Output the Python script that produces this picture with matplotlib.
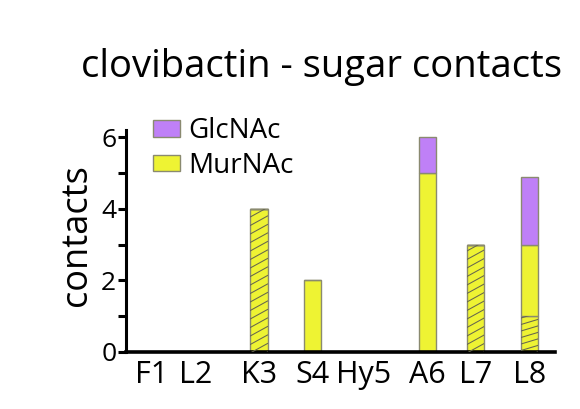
import matplotlib
matplotlib.use('Agg')
import matplotlib.pyplot as plt
from matplotlib.patches import Patch
from matplotlib.lines import Line2D
from matplotlib.transforms import IdentityTransform
import numpy as np

plt.rcParams['font.family'] = ['Open Sans', 'DejaVu Sans']

# data
residues = ['F1', 'L2', 'K3', 'S4', 'Hy5', 'A6', 'L7', 'L8']
murnac_hatch = [0, 0, 4, 0, 0, 0, 3, 0]      # hatched MurNAc (steep lines)
murnac_hatch2 = [0, 0, 0, 0, 0, 0, 0, 1]     # hatched MurNAc (flat lines)
murnac_plain = [0, 0, 0, 2, 0, 5, 0, 2]
glcnac = [0, 0, 0, 0, 0, 1, 0, 1.9]

# layout
xpos = np.array([0, 0.82, 2, 3.0, 3.95, 5.15, 6.05, 7.05])
width = 0.32
yellow = '#eef333'
purple = '#bf80f7'
edge = '#8a8a70'

fig = plt.figure(figsize=(5.8, 4.09), dpi=100)
ax = fig.add_axes([0.2172, 0.1394, 0.7397, 0.5428])
ax.set_xlim(-0.486, 7.533)
ax.set_ylim(0, 6.2)

h1 = np.array(murnac_hatch)
h2 = np.array(murnac_hatch2)
mp = np.array(murnac_plain)
gl = np.array(glcnac)

b1 = ax.bar(xpos, h1, width, color=yellow, edgecolor=edge, lw=1, zorder=2)
b2 = ax.bar(xpos, h2, width, bottom=h1, color=yellow, edgecolor=edge, lw=1, zorder=2)
b3 = ax.bar(xpos, mp, width, bottom=h1 + h2, color=yellow, edgecolor=edge, lw=1, zorder=2)
b4 = ax.bar(xpos, gl, width, bottom=h1 + h2 + mp, color=purple, edgecolor=edge, lw=1, zorder=2)


def hatch(rect, slope, step):
    # diagonal lines drawn in pixels, clipped to the bar
    bb = rect.get_window_extent()
    if bb.height <= 0:
        return
    w = bb.x1 - bb.x0
    y = bb.y0 - slope * w
    while y < bb.y1:
        ln = Line2D([bb.x0, bb.x1], [y, y + slope * w], transform=IdentityTransform(),
                    color='#66664f', lw=0.75, zorder=3)
        ln.set_clip_path(rect)
        fig.add_artist(ln)
        y += step


for r in b1:
    hatch(r, 0.55, 8.5)
for r in b2:
    hatch(r, 0.3, 6.5)

for s in ['top', 'right']:
    ax.spines[s].set_visible(False)
ax.spines['left'].set_linewidth(2.2)
ax.spines['bottom'].set_linewidth(2.6)
ax.spines['bottom'].set_zorder(4)

ax.set_yticks([0, 2, 4, 6])
ax.set_yticks([1, 3, 5], minor=True)
ax.tick_params(axis='y', which='both', length=6, width=2.2, labelsize=19, pad=1)
ax.set_xticks(xpos)
ax.set_xticklabels(residues)
ax.tick_params(axis='x', length=0, labelsize=22, pad=6)

fig.text(0.555, 0.812, 'clovibactin - sugar contacts', ha='center', va='baseline', fontsize=27.5)
fig.text(0.133, 0.425, 'contacts', rotation=90, ha='center', va='center', fontsize=26)

handles = [Patch(facecolor=purple, edgecolor=edge, label='GlcNAc'),
           Patch(facecolor=yellow, edgecolor=edge, label='MurNAc')]
ax.legend(handles=handles, loc='upper left', bbox_to_anchor=(153 / 580, 1 - 117 / 409),
          bbox_transform=fig.transFigure, frameon=False, fontsize=20, borderpad=0,
          borderaxespad=0, handlelength=0.98, handleheight=0.55, handletextpad=0.28,
          labelspacing=0.25)

fig.savefig('out.png', dpi=100)
